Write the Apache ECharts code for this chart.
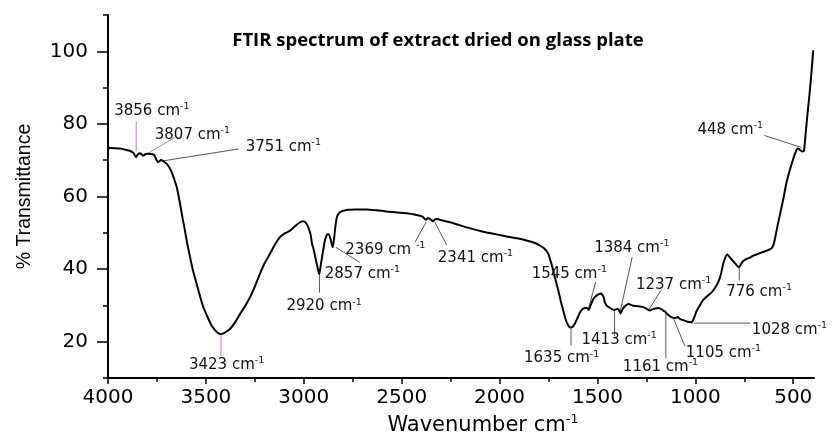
<!DOCTYPE html>
<html>
<head>
<meta charset="utf-8">
<script src="https://cdn.jsdelivr.net/npm/echarts@6/dist/echarts.min.js"></script>
<style>
  html, body { margin: 0; padding: 0; background: #fff; }
  #chart { width: 834px; height: 435px; }
</style>
</head>
<body>
<div id="chart"></div>
<script>
// spectrum (wavenumber in cm-1, % transmittance)
const wavenumbers = [
    4000, 3970, 3939, 3910, 3888, 3870, 3857, 3848, 3837, 3828, 3820, 3808, 3794, 3780, 3765, 3755,
    3745, 3737, 3729, 3715, 3700, 3688, 3675, 3662, 3649, 3632, 3620, 3607, 3595, 3581, 3565, 3547,
    3530, 3513, 3490, 3470, 3450, 3435, 3424, 3410, 3395, 3377, 3350, 3326, 3300, 3275, 3250, 3224,
    3200, 3173, 3150, 3122, 3095, 3070, 3045, 3019, 3003, 2990, 2977, 2965, 2958, 2950, 2940, 2930,
    2921, 2912, 2903, 2892, 2880, 2872, 2862, 2852, 2845, 2838, 2830, 2815, 2781, 2730, 2679, 2630,
    2577, 2520, 2474, 2430, 2395, 2376, 2366, 2359, 2350, 2339, 2330, 2321, 2290, 2253, 2210, 2168,
    2120, 2066, 2010, 1964, 1910, 1862, 1820, 1794, 1770, 1751, 1738, 1726, 1713, 1700, 1688, 1675,
    1665, 1657, 1647, 1637, 1625, 1615, 1606, 1589, 1575, 1564, 1552, 1545, 1535, 1521, 1500, 1482,
    1470, 1462, 1450, 1436, 1416, 1400, 1394, 1382, 1375, 1368, 1355, 1343, 1330, 1317, 1300, 1283,
    1270, 1257, 1245, 1232, 1220, 1210, 1189, 1175, 1164, 1155, 1147, 1135, 1121, 1104, 1090, 1079,
    1060, 1040, 1028, 1019, 1005, 994, 975, 960, 940, 917, 900, 883, 870, 858, 847, 837,
    820, 800, 785, 776, 760, 738, 720, 704, 680, 661, 630, 611, 600, 593, 580, 568,
    550, 534, 520, 508, 491, 479, 468, 461, 452, 445, 438, 432, 424, 415, 405, 398
];
const transmittance = [
    73.4, 73.3, 73.2, 72.9, 72.6, 72.0, 70.8, 71.6, 71.9, 71.6, 71.2, 71.7, 71.8, 71.7, 71.5, 70.4,
    69.5, 69.7, 70.1, 69.6, 69.0, 68.1, 66.7, 64.8, 62.6, 58.0, 54.3, 50.6, 47.0, 43.3, 39.4, 35.9,
    32.5, 29.5, 26.6, 24.4, 23.0, 22.3, 22.1, 22.3, 22.8, 23.5, 25.4, 27.6, 29.8, 32.2, 35.2, 38.7,
    41.6, 44.2, 46.5, 48.8, 49.9, 50.6, 51.8, 52.9, 53.2, 52.8, 51.5, 49.5, 47.0, 45.5, 43.0, 40.5,
    38.5, 41.5, 44.5, 47.9, 49.6, 49.6, 48.0, 46.0, 48.5, 52.0, 54.5, 55.7, 56.3, 56.4, 56.4, 56.2,
    55.9, 55.6, 55.4, 55.0, 54.5, 53.6, 54.1, 53.9, 53.6, 53.2, 53.7, 53.8, 53.4, 52.9, 52.2, 51.5,
    50.8, 50.1, 49.5, 49.0, 48.5, 47.9, 47.2, 46.5, 45.6, 44.2, 42.0, 39.6, 36.8, 34.1, 31.3, 28.6,
    26.6, 25.3, 24.3, 23.9, 24.2, 25.0, 26.0, 28.1, 29.0, 29.3, 29.3, 28.7, 30.0, 31.8, 32.9, 33.3,
    32.5, 30.8, 29.8, 29.3, 28.7, 29.0, 29.0, 27.8, 28.6, 29.3, 30.0, 30.4, 30.2, 29.9, 29.8, 29.7,
    29.6, 29.3, 28.9, 28.6, 28.9, 29.1, 29.3, 29.0, 28.6, 28.3, 27.8, 27.2, 26.7, 26.5, 26.8, 26.3,
    25.9, 25.5, 25.4, 25.3, 26.8, 28.4, 30.2, 31.5, 32.5, 33.6, 34.8, 36.4, 38.5, 41.4, 43.2, 44.0,
    43.0, 41.8, 40.8, 40.6, 42.0, 42.8, 43.2, 43.7, 44.2, 44.6, 45.2, 45.7, 46.8, 48.5, 52.0, 55.0,
    59.5, 64.0, 66.8, 69.0, 71.8, 73.2, 73.0, 72.6, 72.4, 72.6, 76.5, 80.0, 84.5, 89.2, 95.5, 100.3
];

// labelled bands
const peakNames = ['3856', '3807', '3751', '3423', '2920', '2857', '2369', '2341', '1545',
    '1635', '1413', '1384', '1237', '1161', '1105', '1028', '776', '448'];
const peakPos = [3856, 3807, 3751, 3423, 2920, 2857, 2369, 2341, 1545,
    1635, 1413, 1384, 1237, 1161, 1105, 1028, 776, 448];
const peakT = [70.8, 71.6, 69.8, 22.1, 38.5, 46.0, 53.6, 53.2, 28.7,
    23.9, 28.7, 27.8, 28.6, 28.6, 26.5, 25.4, 41.0, 72.4];

// axis ticks
const xTickValues = [4000, 3500, 3000, 2500, 2000, 1500, 1000, 500];
const xMinorValues = [3750, 3250, 2750, 2250, 1750, 1250, 750];
const yTickValues = [20, 40, 60, 80, 100];

// leader line start / end and label anchor, pixel offsets from the band point
const annotOffsets = [
    [0, -6, 0, -36, -22, -48],
    [2, -1, 29, -17, 9, -21],
    [6, 0, 82, -12, 89, -16],
    [0, 1, 0, 22, -32, 29],
    [0, 1, 0, 18, -33, 30],
    [4, 0, 28, 15, -7, 25],
    [-1, 2, -12, 22, -82, 28],
    [2, 1, 14, 24, 5, 35],
    [0, -2, 7, -28, -57, -38],
    [0, 1, 0, 18, -47, 29],
    [0, 0, 0, 26, -33, 28],
    [0, -2, 12, -56, -26, -67],
    [0, -1, 12, -20, -13, -27],
    [2, 2, 2, 48, -41, 55],
    [-1, 1, 10, 28, 11, 33],
    [4, 1, 60, 1, 62, 6],
    [0, 1, 0, 15, -13, 25],
    [-2, -4, -39, -16, -106, -23]
];
const violetPeaks = ['3856', '3807', '3423'];

const chart = echarts.init(document.getElementById('chart'));

const spectrum = wavenumbers.map((w, i) => [w, transmittance[i]]);
const peaks = peakPos.map((w, i) => [w, peakT[i], i]);

const tickFont = 'DejaVu Sans';

function renderPeak(params, api) {
    const i = api.value(2);
    const p = api.coord([api.value(0), api.value(1)]);
    const o = annotOffsets[i];
    const color = violetPeaks.includes(peakNames[i]) ? '#c374d6' : '#555';
    const gap = peakNames[i] === '2369' ? ' ' : '';
    return {
        type: 'group',
        children: [{
            type: 'line',
            shape: { x1: p[0] + o[0], y1: p[1] + o[1], x2: p[0] + o[2], y2: p[1] + o[3] },
            style: { stroke: color, lineWidth: 1 }
        }, {
            type: 'text',
            x: p[0] + o[4],
            // rich block sits a little high, push it back down
            y: p[1] + o[5] + 2,
            style: {
                text: '{a|' + peakNames[i] + ' cm' + gap + '}{s|-1}',
                verticalAlign: 'middle',
                align: 'left',
                rich: {
                    a: { fontFamily: tickFont, fontSize: 15, fill: '#111' },
                    s: { fontFamily: tickFont, fontSize: 9.5, fill: '#111', padding: [0, 0, 9, 0] }
                }
            }
        }]
    };
}

const option = {
    backgroundColor: '#fff',
    animation: false,
    title: {
        text: 'FTIR spectrum of extract dried on glass plate',
        left: 433,
        top: 26,
        textAlign: 'center',
        textStyle: { fontFamily: 'Open Sans', fontWeight: 'bold', fontSize: 18.5, color: '#000' }
    },
    grid: { left: 108, right: 20, top: 15, bottom: 57, outerBoundsMode: 'none' },
    xAxis: [{
        type: 'value',
        inverse: true,
        min: 394,
        max: 4000,
        name: '{a|Wavenumber cm}{s|-1}',
        nameLocation: 'middle',
        nameGap: 26,
        nameTextStyle: {
            rich: {
                a: { fontFamily: tickFont, fontSize: 21, color: '#000', padding: [0, 0, 0, 44] },
                s: { fontFamily: tickFont, fontSize: 13, color: '#000', padding: [0, 0, 12, 0] }
            }
        },
        axisLine: { lineStyle: { color: '#000', width: 2 } },
        axisTick: { customValues: xTickValues, length: 6, lineStyle: { color: '#000', width: 1.5 } },
        axisLabel: {
            customValues: xTickValues, margin: 10, fontFamily: tickFont, fontSize: 20, color: '#000',
            formatter: v => String(v)
        },
        splitLine: { show: false }
    }, {
        type: 'value',
        inverse: true,
        min: 394,
        max: 4000,
        position: 'bottom',
        axisLine: { show: false },
        axisTick: { customValues: xMinorValues, length: 4, lineStyle: { color: '#000', width: 1.5 } },
        axisLabel: { show: false },
        splitLine: { show: false }
    }],
    yAxis: [{
        type: 'value',
        min: 10,
        max: 110,
        name: '% Transmittance',
        nameLocation: 'middle',
        nameGap: 73,
        nameRotate: 90,
        nameTextStyle: { fontFamily: 'Liberation Sans', fontSize: 19.5, color: '#000' },
        axisLine: { show: true, lineStyle: { color: '#000', width: 2 } },
        axisTick: { show: true, customValues: yTickValues, length: 11, lineStyle: { color: '#000', width: 1.5 } },
        axisLabel: { customValues: yTickValues, margin: 20, fontFamily: tickFont, fontSize: 20, color: '#000' },
        splitLine: { show: false }
    }, {
        type: 'value',
        min: 10,
        max: 110,
        interval: 10,
        position: 'left',
        axisLine: { show: false },
        axisTick: { show: true, length: 5, lineStyle: { color: '#000', width: 1.5 } },
        axisLabel: { show: false },
        splitLine: { show: false }
    }],
    series: [{
        type: 'line',
        data: spectrum,
        showSymbol: false,
        smooth: 0.15,
        lineStyle: { color: '#000', width: 2 }
    }, {
        type: 'custom',
        data: peaks,
        clip: false,
        renderItem: renderPeak
    }]
};

chart.setOption(option);
</script>
</body>
</html>
